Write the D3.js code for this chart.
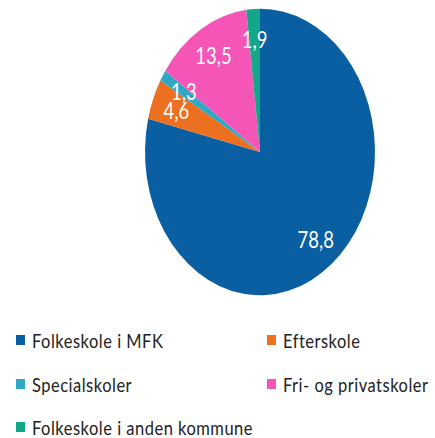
<!DOCTYPE html>
<html>
<head>
<meta charset="utf-8">
<script src="https://cdnjs.cloudflare.com/ajax/libs/d3/7.8.5/d3.min.js"></script>
<style>
  body { margin: 0; background: #fff; }
  text { font-family: Lato, "Open Sans", sans-serif; }
</style>
</head>
<body>
<script>
// data
let categories = ["Folkeskole i MFK", "Efterskole", "Specialskoler", "Fri- og privatskoler", "Folkeskole i anden kommune"];
let values = [78.8, 4.6, 1.3, 13.5, 1.9];
let labels = ["78,8", "4,6", "1,3", "13,5", "1,9"];
let colors = ["#0a5fa2", "#ec7020", "#30a8c5", "#f455b6", "#13a689"];

let width = 435, height = 438;
let radius = 115,
    stretch = 1.245; // the original picture is stretched vertically

let svg = d3.select("body").append("svg")
    .attr("width", width)
    .attr("height", height);

let data = categories.map(function(c, i) {
  return {name: c, value: values[i], label: labels[i], color: colors[i]};
});

let pie = d3.pie()
    .sort(null)
    .value(function(d) { return d.value; });

let arc = d3.arc().innerRadius(0).outerRadius(radius);
let labelArc = d3.arc().innerRadius(90).outerRadius(90);

let g = svg.append("g")
    .attr("transform", "translate(260,152)");

let slices = g.append("g")
    .attr("transform", "scale(1," + stretch + ")");

slices.selectAll("path")
    .data(pie(data))
    .enter().append("path")
    .attr("d", arc)
    .attr("fill", function(d) { return d.data.color; });

// value labels
g.selectAll(".lbl")
    .data(pie(data))
    .enter().append("text")
    .attr("class", "lbl")
    .attr("transform", function(d) {
      let c = labelArc.centroid(d);
      return "translate(" + c[0] + "," + (c[1] * stretch) + ") scale(1," + stretch + ")";
    })
    .attr("text-anchor", "middle")
    .attr("dy", "0.36em")
    .attr("fill", "#fff")
    .style("font-size", "18.5px")
    .text(function(d) { return d.data.label; });

// legend
let legX = d3.scaleOrdinal().domain([0, 1]).range([16, 267]);
let legY = d3.scaleOrdinal().domain([0, 1, 2]).range([341, 385, 428]);

let leg = svg.selectAll(".leg")
    .data(data)
    .enter().append("g")
    .attr("class", "leg")
    .attr("transform", function(d, i) {
      return "translate(" + legX(i % 2) + "," + legY(Math.floor(i / 2)) + ")";
    });

leg.append("rect")
    .attr("x", 0)
    .attr("y", -6)
    .attr("width", 9)
    .attr("height", 10)
    .attr("fill", function(d) { return d.color; });

leg.append("text")
    .attr("transform", "translate(16,0) scale(1,1.12)")
    .attr("dy", "0.36em")
    .attr("fill", "#222")
    .style("font-size", "16.5px")
    .style("letter-spacing", "0.5px")
    .text(function(d) { return d.name; });
</script>
</body>
</html>
